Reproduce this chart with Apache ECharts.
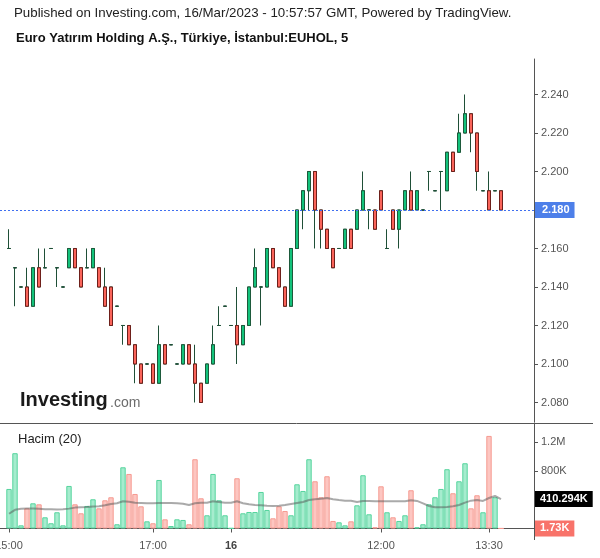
<!DOCTYPE html>
<html><head><meta charset="utf-8">
<script src="https://cdn.jsdelivr.net/npm/echarts@6/dist/echarts.min.js"></script>
<style>html,body{margin:0;padding:0;background:#fff}#c{width:600px;height:558px}</style>
</head><body><div id="c"></div>
<script>
const FONT = 'Liberation Sans, Arial, sans-serif';

// 5-minute bars, slots 1..83 carry data (slot 0 and 84..88 are empty space)
const opens  = [2.16,2.15,2.14,2.14,2.13,2.15,2.15,2.16,2.15,2.14,2.15,2.16,2.15,2.15,2.15,2.15,2.14,2.14,2.13,2.12,
                2.12,2.11,2.10,2.10,2.10,2.09,2.11,2.11,2.10,2.10,2.11,2.10,2.09,2.09,2.10,2.12,2.13,2.12,2.12,2.11,
                2.12,2.14,2.14,2.14,2.16,2.15,2.14,2.13,2.16,2.18,2.19,2.20,2.18,2.17,2.16,2.16,2.16,2.17,2.17,2.18,
                2.18,2.18,2.19,2.16,2.18,2.17,2.18,2.19,2.18,2.18,2.20,2.19,2.20,2.19,2.21,2.21,2.22,2.23,2.22,2.19,
                2.19,2.19,2.19];
const closes = [2.16,2.15,2.14,2.13,2.15,2.14,2.15,2.16,2.15,2.14,2.16,2.15,2.14,2.15,2.16,2.14,2.13,2.12,2.13,2.12,
                2.11,2.10,2.09,2.10,2.09,2.11,2.10,2.11,2.10,2.11,2.10,2.09,2.08,2.10,2.11,2.12,2.13,2.12,2.11,2.12,
                2.14,2.15,2.14,2.16,2.15,2.14,2.13,2.16,2.18,2.19,2.20,2.18,2.17,2.16,2.15,2.16,2.17,2.16,2.18,2.19,
                2.18,2.17,2.18,2.16,2.17,2.18,2.19,2.18,2.19,2.18,2.20,2.19,2.20,2.21,2.20,2.22,2.23,2.22,2.20,2.19,
                2.18,2.19,2.18];
const lows   = [2.16,2.13,2.14,2.13,2.13,2.14,2.15,2.16,2.14,2.14,2.15,2.15,2.14,2.15,2.15,2.14,2.13,2.12,2.13,2.11,
                2.11,2.09,2.09,2.10,2.09,2.09,2.10,2.11,2.10,2.10,2.10,2.08,2.08,2.09,2.10,2.12,2.13,2.12,2.10,2.11,
                2.12,2.14,2.12,2.14,2.15,2.14,2.13,2.13,2.16,2.17,2.18,2.16,2.16,2.16,2.15,2.16,2.16,2.16,2.17,2.18,
                2.17,2.17,2.18,2.16,2.17,2.16,2.18,2.18,2.18,2.18,2.19,2.19,2.18,2.19,2.20,2.21,2.22,2.21,2.19,2.19,
                2.18,2.19,2.18];
const highs  = [2.17,2.15,2.14,2.15,2.15,2.16,2.16,2.16,2.15,2.14,2.16,2.16,2.15,2.16,2.16,2.15,2.15,2.14,2.13,2.12,
                2.12,2.11,2.10,2.10,2.10,2.12,2.11,2.11,2.10,2.11,2.11,2.11,2.09,2.10,2.12,2.13,2.13,2.12,2.14,2.12,
                2.14,2.16,2.14,2.16,2.16,2.15,2.14,2.16,2.18,2.19,2.20,2.20,2.18,2.17,2.16,2.16,2.17,2.17,2.18,2.20,
                2.18,2.18,2.19,2.17,2.18,2.18,2.19,2.20,2.19,2.18,2.20,2.19,2.20,2.21,2.21,2.23,2.24,2.23,2.22,2.19,
                2.20,2.19,2.19];
const volumes = [551000,1049000,44000,281000,351000,337000,156000,73000,226000,44000,
                 593000,337000,212000,314000,407000,281000,393000,435000,59000,853000,
                 760000,481000,309000,100000,73000,676000,128000,35000,128000,119000,
                 59000,965000,421000,184000,760000,393000,184000,4000,700000,212000,
                 230000,230000,509000,258000,142000,309000,244000,184000,616000,523000,
                 965000,658000,435000,728000,105000,86000,44000,100000,323000,742000,
                 198000,17000,588000,226000,156000,105000,184000,533000,17000,59000,
                 337000,435000,551000,826000,491000,658000,909000,281000,463000,226000,
                 1290000,435000,1730];
const volumeMA = [205000,260000,274000,277000,277000,274000,268000,268000,265000,268000,
                  277000,291000,296000,300000,305000,309000,323000,342000,351000,379000,
                  374000,360000,356000,351000,351000,356000,356000,356000,351000,346000,
                  328000,351000,360000,360000,379000,370000,360000,360000,379000,351000,
                  337000,328000,323000,318000,314000,318000,328000,342000,356000,370000,
                  397000,407000,416000,425000,407000,397000,388000,388000,370000,384000,
                  384000,379000,379000,379000,379000,379000,379000,393000,384000,351000,
                  314000,296000,296000,300000,309000,328000,360000,388000,397000,384000,
                  425000,453000,410294];
const lastPrice = 2.18;
const lastVolume = 1730;
const lastVolumeMA = 410294;

const priceTicks = [2.08,2.10,2.12,2.14,2.16,2.18,2.20,2.22,2.24];
const volumeTicks = [800000,1200000];
const tickCats  = ['15/03 15:00','15/03 17:00','16/03 09:55','16/03 12:00','16/03 13:30'];
const tickTexts = ['15:00','17:00','16','12:00','13:30'];

function hm(m){const h=Math.floor(m/60),mm=m%60;return String(h).padStart(2,'0')+':'+String(mm).padStart(2,'0');}
const categories=[];
for(let i=0;i<89;i++){
  if(i<=37) categories.push('15/03 '+hm(14*60+55+5*i));
  else categories.push('16/03 '+hm(9*60+55+5*(i-38)));
}
const LEAD=1, TRAIL=89-1-opens.length;
function pad(arr){const out=[];for(let i=0;i<LEAD;i++)out.push('-');arr.forEach(v=>out.push(v));for(let i=0;i<TRAIL;i++)out.push('-');return out;}

const GREEN='#13c27b', RED='#fa645a', WICK='#1f4f37';
const candleFull = pad(opens.map((o,i)=>[o,closes[i],lows[i],highs[i]]));
const candleBody = pad(opens.map((o,i)=>[o,closes[i],Math.min(o,closes[i]),Math.max(o,closes[i])]));
const volData = pad(volumes.map((v,i)=>{
  const down = closes[i] < opens[i];
  return {value:v,itemStyle:{color: down?'#fdc6c1':'#a6ecce', borderColor: down?'#f69a91':'#55d49d'}};
}));
const maData = pad(volumeMA);

function fmtK(v){return parseFloat((v/1000).toFixed(3))+'K';}

const isTick = (idx,val)=> tickCats.indexOf(val)>=0;

const chart = echarts.init(document.getElementById('c'),null,{renderer:'canvas'});
chart.setOption({
  animation:false,
  backgroundColor:'#fff',
  textStyle:{fontFamily:FONT},
  grid:[
    {left:0,right:66,top:59,height:363,outerBoundsMode:'none',containLabel:false},
    {left:0,right:66,top:423,bottom:29.5,outerBoundsMode:'none',containLabel:false}
  ],
  xAxis:[
    {type:'category',gridIndex:0,data:categories,boundaryGap:true,
     axisLine:{show:false},axisTick:{show:false},axisLabel:{show:false},splitLine:{show:false}},
    {type:'category',gridIndex:1,data:categories,boundaryGap:true,offset:4.5,
     axisLine:{show:true,lineStyle:{color:'#555'}},
     axisTick:{show:true,alignWithLabel:true,interval:isTick,length:4,lineStyle:{color:'#555'}},
     axisLabel:{interval:isTick,color:'#555',fontSize:11,fontFamily:FONT,margin:7,
       formatter:(v)=>{const k=tickCats.indexOf(v);const t=k>=0?tickTexts[k]:'';return t==='16'?'{b|16}':t;},
       rich:{b:{fontWeight:'bold',color:'#444',fontSize:11,fontFamily:FONT}}},
     splitLine:{show:false}}
  ],
  yAxis:[
    {type:'value',gridIndex:0,position:'right',min:2.06987,max:2.25844,
     axisLine:{show:true,lineStyle:{color:'#555'}},
     axisTick:{show:true,length:4,customValues:priceTicks,lineStyle:{color:'#555'}},
     axisLabel:{customValues:priceTicks,formatter:v=>v.toFixed(3),color:'#555',fontSize:11,fontFamily:FONT,margin:7},
     splitLine:{show:false}},
    {type:'value',gridIndex:1,position:'right',min:0,max:1470000,
     axisLine:{show:true,lineStyle:{color:'#555'}},
     axisTick:{show:true,length:4,customValues:volumeTicks,lineStyle:{color:'#555'}},
     axisLabel:{customValues:volumeTicks,formatter:v=>v>=1e6?(v/1e6)+'M':(v/1000)+'K',color:'#555',fontSize:11,fontFamily:FONT,margin:7},
     splitLine:{show:false}}
  ],
  series:[
    {type:'candlestick',name:'wicks',xAxisIndex:0,yAxisIndex:0,data:candleFull,barWidth:4,silent:true,
     itemStyle:{color:'rgba(0,0,0,0)',color0:'rgba(0,0,0,0)',borderColor:WICK,borderColor0:WICK,borderColorDoji:WICK,borderWidth:1}},
    {type:'candlestick',name:'EUHOL',xAxisIndex:0,yAxisIndex:0,data:candleBody,barWidth:4,silent:true,
     itemStyle:{color:GREEN,color0:RED,borderColor:'#1d5a3b',borderColor0:'#6e1f1a',borderColorDoji:WICK,borderWidth:1},
     markLine:{symbol:['none','none'],silent:true,animation:false,precision:3,
       data:[{yAxis:lastPrice}],
       lineStyle:{color:'#3f6ff0',type:[2,2],width:1},
       label:{show:true,position:'end',distance:1,formatter:p=>Number(p.value).toFixed(3),
         backgroundColor:'#4d7fe9',color:'#fff',fontWeight:'bold',fontSize:11,fontFamily:FONT,padding:[3,5,2,7]}}},
    {type:'bar',name:'Hacim',xAxisIndex:1,yAxisIndex:1,data:volData,barWidth:5.4,silent:true,
     itemStyle:{borderWidth:1},
     markLine:{symbol:['none','none'],silent:true,animation:false,
       data:[{yAxis:lastVolume}],
       lineStyle:{color:'rgba(0,0,0,0)',width:0},
       label:{show:true,position:'end',distance:1,formatter:p=>fmtK(p.value),
         backgroundColor:'#f8736a',color:'#fff',fontWeight:'bold',fontSize:11,fontFamily:FONT,padding:[3,5,2,5]}}},
    {type:'line',name:'MA20',xAxisIndex:1,yAxisIndex:1,data:maData,symbol:'none',silent:true,
     lineStyle:{color:'rgba(85,85,85,0.5)',width:2},
     markLine:{symbol:['none','none'],silent:true,animation:false,
       data:[{yAxis:lastVolumeMA}],
       lineStyle:{color:'rgba(0,0,0,0)',width:0},
       label:{show:true,position:'end',distance:1,formatter:p=>fmtK(p.value),
         backgroundColor:'#000',color:'#fff',fontWeight:'bold',fontSize:11,fontFamily:FONT,padding:[3,5,2,5]}}}
  ],
  graphic:[
    {type:'text',left:14,top:7,silent:true,style:{text:'Published on Investing.com, 16/Mar/2023 - 10:57:57 GMT, Powered by TradingView.',fill:'#222',font:'13.3px '+FONT}},
    {type:'text',left:16,top:32,silent:true,style:{text:'Euro Yatırım Holding A.Ş., Türkiye, İstanbul:EUHOL, 5',fill:'#111',font:'bold 13px '+FONT}},
    {type:'line',silent:true,shape:{x1:0,y1:423.5,x2:593,y2:423.5},style:{stroke:'#555',lineWidth:1}},
    {type:'line',silent:true,shape:{x1:534.5,y1:528,x2:534.5,y2:540},style:{stroke:'#555',lineWidth:1}},
    {type:'text',left:18,top:433,silent:true,style:{text:'Hacim (20)',fill:'#222',font:'13px '+FONT}},
    {type:'text',left:20,top:390,silent:true,style:{text:'Investing',fill:'#1a1a1a',font:'bold 20px '+FONT}},
    {type:'text',left:110,top:396,silent:true,style:{text:'.com',fill:'#6b6b6b',font:'14px '+FONT}}
  ]
});
</script>
</body></html>
